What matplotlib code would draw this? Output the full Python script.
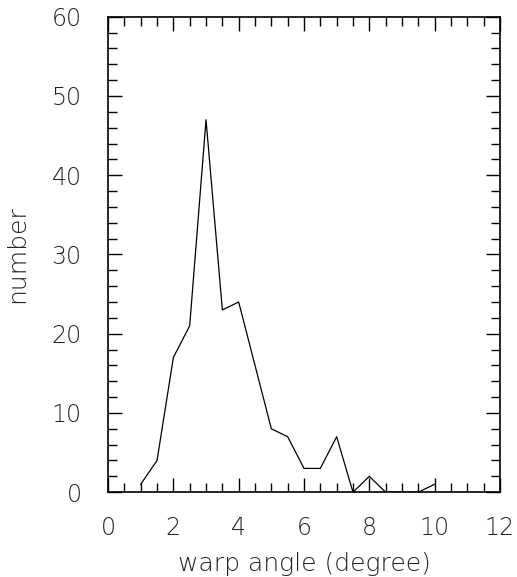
import matplotlib
matplotlib.use("Agg")
import matplotlib.pyplot as plt
from matplotlib.ticker import MultipleLocator

# Warp angle distribution (bin centres in degrees, counts)
warp_angle = [1.0, 1.5, 2.0, 2.5, 3.0, 3.5, 4.0, 4.5, 5.0, 5.5, 6.0, 6.5,
              7.0, 7.5, 8.0, 8.5, 9.0, 9.5, 10.0]
counts = [1, 4, 17, 21, 47, 23, 24, 16, 8, 7, 3, 3, 7, 0, 2, 0, 0, 0, 1]

x_ticks = [0, 2, 4, 6, 8, 10, 12]
y_ticks = [0, 10, 20, 30, 40, 50, 60]

fig = plt.figure(figsize=(5.17, 5.77), dpi=100)
ax = fig.add_axes([0.209, 0.147, 0.758, 0.824])

ax.plot(warp_angle, counts, color="black", lw=0.9)

ax.set_xlim(0, 12)
ax.set_ylim(0, 60)
ax.set_xticks(x_ticks)
ax.set_yticks(y_ticks)
ax.xaxis.set_minor_locator(MultipleLocator(0.5))
ax.yaxis.set_minor_locator(MultipleLocator(2))

txt_color = "#222222"
ax.tick_params(which="both", direction="in", top=True, right=True,
               color="black", width=1.0)
ax.tick_params(which="major", length=10)
ax.tick_params(which="minor", length=6.5)
ax.tick_params(axis="x", which="major", pad=17, labelsize=17, labelcolor=txt_color)
ax.tick_params(axis="y", which="major", pad=19, labelsize=17, labelcolor=txt_color)
for lab in ax.get_xticklabels() + ax.get_yticklabels():
    lab.set_fontweight("light")

for s in ax.spines.values():
    s.set_linewidth(1.2)

ax.set_xlabel("warp angle (degree)", fontsize=18, color=txt_color,
              fontweight="light", labelpad=9)
ax.set_ylabel("number", fontsize=18, color=txt_color,
              fontweight="light", labelpad=16)

fig.savefig("out.png", dpi=100)
